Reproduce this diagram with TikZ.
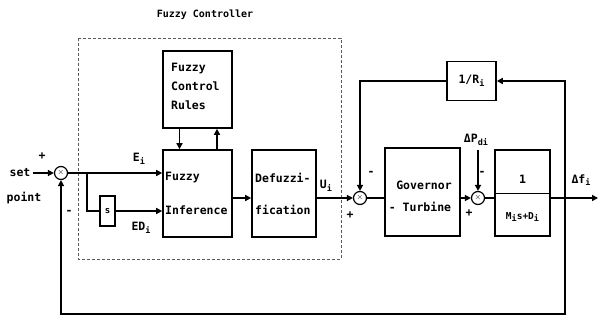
\documentclass[tikz,border=0pt]{standalone}
\usepackage{fontspec}
\setmainfont{DejaVu Sans Mono}
\usetikzlibrary{arrows.meta}
\newcommand{\sbs}[1]{\raisebox{-2.5pt}{\fontsize{8.5}{8.5}\selectfont #1}}
\begin{document}
\begin{tikzpicture}[x=1pt,y=-1pt,
  every node/.style={font=\fontsize{11.5}{19}\selectfont\bfseries},
  line/.style={line width=1.6pt},
  arr/.style={line width=1.6pt, -{Triangle[length=6pt,width=6pt]}},
  blk/.style={draw, line width=1.6pt, inner sep=0pt},
  summ/.style={draw, circle, line width=1.2pt, minimum size=13pt, inner sep=0pt, font=\fontsize{8}{8}\selectfont},
  lbl/.style={inner sep=0pt}
]
\useasboundingbox (0,0) rectangle (600,320);

% dashed controller frame
\draw[densely dashed, line width=0.8pt, gray!70!black] (78,38) rectangle (341,259);
\node[lbl, font=\fontsize{10}{10}\selectfont\bfseries] (title) at (205,15) {Fuzzy Controller};

% blocks
\node[blk, minimum width=69pt, minimum height=77pt] (rules) at (197.5,89.5) {};
\node[lbl, align=left, anchor=north west] (rulest) at (171,63) {Fuzzy\\Control\\Rules};
\node[blk, minimum width=69pt, minimum height=87pt] (inf) at (197.5,193.5) {};
\node[lbl, anchor=west] (inf1) at (165,178) {Fuzzy};
\node[lbl, anchor=west] (inf2) at (165,210) {Inference};
\node[blk, minimum width=64pt, minimum height=87pt] (defuz) at (284,193.5) {};
\node[lbl, anchor=west] (df1) at (255,178) {Defuzzi-};
\node[lbl, anchor=west] (df2) at (255,210) {fication};
\node[blk, minimum width=15pt, minimum height=30pt] (sbox) at (107.5,211) {};
\node[lbl, font=\fontsize{9}{9}\selectfont\bfseries] (st) at (107.5,211) {s};
\node[blk, minimum width=75pt, minimum height=88pt] (gov) at (422.5,192) {};
\node[lbl] (gov1) at (424,185) {Governor};
\node[lbl] (gov2) at (420,207) {- Turbine};
\node[blk, minimum width=55pt, minimum height=86pt] (plant) at (522.5,193) {};
\node[lbl] (pn) at (522.5,179) {1};
\node[lbl, font=\fontsize{9.5}{10}\selectfont\bfseries] (pd) at (522.5,217) {M\sbs{i}s+D\sbs{i}};
\draw[line width=0.9pt] ([xshift=2pt]plant.west) -- ([xshift=-2pt]plant.east);
\node[blk, minimum width=49pt, minimum height=39pt] (rbox) at (471.5,81) {};
\node[lbl] (rt) at (471.5,81) {1/R\sbs{i}};

% summing junctions
\node[summ] (s1) at (61,173) {$\times$};
\node[summ] (s2) at (360,198) {$\times$};
\node[summ] (s3) at (478,198) {$\times$};

% coordinates
\coordinate (in) at (33,173);
\coordinate (j1) at (87,173);
\coordinate (j1b) at (87,211);
\coordinate (pdi) at (478,150);
\coordinate (j2) at (565,198);
\coordinate (out) at (598,198);
\coordinate (tr) at (565,81);
\coordinate (tl) at (360,81);
\coordinate (br) at (565,314);
\coordinate (bl) at (61,314);

% connectors
\draw[arr] (in) -- (s1);
\draw[line] (s1) -- (j1);
\draw[arr] (j1) -- (j1 -| inf.west);
\draw[line] (j1) -- (j1b) -- (sbox.west);
\draw[arr] (sbox.east) -- (sbox -| inf.west);
\draw[arr] ([xshift=-18pt]rules.south) -- ([xshift=-18pt]inf.north);
\draw[arr] ([xshift=19.5pt]inf.north) -- ([xshift=19.5pt]rules.south);
\draw[arr] (inf.east |- s2) -- (defuz.west |- s2);
\draw[arr] (defuz.east |- s2) -- (s2);
\draw[line] (s2) -- (gov.west |- s2);
\draw[arr] (gov.east |- s3) -- (s3);
\draw[line] (s3) -- (plant.west |- s3);
\draw[arr] (pdi) -- (s3);
\draw[arr] (plant.east |- j2) -- (out);
\draw[arr] (j2) -- (tr) -- (rbox.east);
\draw[arr] (rbox.west) -- (tl) -- (s2);
\draw[arr] (j2) -- (br) -- (bl) -- (s1);

% labels
\node[lbl] (setl) at (20,173) {set};
\node[lbl] (pointl) at (24,198) {point};
\node[lbl] (p1) at (42,156) {+};
\node[lbl] (m1) at (69,212) {-};
\node[lbl] (ei) at (139,159) {E\sbs{i}};
\node[lbl] (edi) at (141,228) {ED\sbs{i}};
\node[lbl] (ui) at (326,186) {U\sbs{i}};
\node[lbl] (m2) at (371,173) {-};
\node[lbl] (p2) at (350,215) {+};
\node[lbl] (dpl) at (476,140) {ΔP\sbs{di}};
\node[lbl] (m3) at (482,173) {-};
\node[lbl] (p3) at (469,213) {+};
\node[lbl] (dfl) at (581,180) {Δf\sbs{i}};
\end{tikzpicture}
\end{document}
